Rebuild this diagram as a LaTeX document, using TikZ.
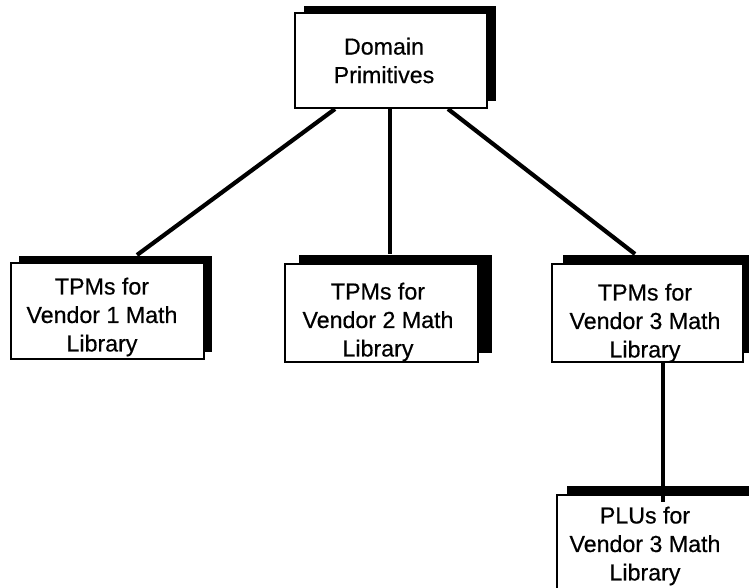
\documentclass[tikz,border=0pt]{standalone}
\usepackage{fontspec}
\setmainfont{Liberation Sans}[FakeBold=0.5]
\usetikzlibrary{shadows}
\begin{document}
\begin{tikzpicture}[x=1pt,y=-1pt,
  box/.style={draw=black, line width=2pt, fill=white, rectangle, inner sep=0pt},
  shade/.style 2 args={drop shadow={shadow xshift=#1pt, shadow yshift=#2pt, fill=black, opacity=1}},
  lbl/.style={inner sep=0pt, align=center, font=\fontsize{23.2}{28.5}\selectfont},
  link/.style={line width=4.2pt, draw=black}]
\useasboundingbox (0,0) rectangle (749,588);
\fill[white] (0,0) rectangle (749,588);
\clip (0,0) rectangle (749,588);

% boxes with solid black offset shadows
\node[box, shade={9}{7}, minimum width=192pt, minimum height=95pt] (dom) at (391,60.5) {};
\node[box, shade={8}{7}, minimum width=193pt, minimum height=96pt] (v1) at (107.5,311) {};
\node[box, shade={14}{9}, minimum width=193pt, minimum height=98pt] (v2) at (381.5,313) {};
\node[box, shade={11}{9}, minimum width=191pt, minimum height=98pt] (v3) at (647.5,313) {};
\node[box, shade={10}{9}, minimum width=200pt, minimum height=100pt] (plu) at (657,545) {};

% labels
\node[lbl] (domt) at ([xshift=-7pt]dom.center) {Domain\\Primitives};
\node[lbl] (v1t) at ([xshift=-5.5pt,yshift=-6pt]v1.center) {TPMs for\\Vendor 1 Math\\Library};
\node[lbl] (v2t) at ([xshift=-3.5pt,yshift=-9pt]v2.center) {TPMs for\\Vendor 2 Math\\Library};
\node[lbl] (v3t) at ([xshift=-2.5pt,yshift=-10pt]v3.center) {TPMs for\\Vendor 3 Math\\Library};
\node[lbl] (plut) at (645,546) {PLUs for\\Vendor 3 Math\\Library};

% connectors
\draw[link] ([xshift=-56pt]dom.south) -- ([xshift=29.5pt,yshift=7pt]v1.north);
\draw[link] ([xshift=-1pt]dom.south) -- ([xshift=8.5pt,yshift=9pt]v2.north);
\draw[link] ([xshift=57pt]dom.south) -- ([xshift=-12.5pt,yshift=9pt]v3.north);
\draw[link] ([xshift=15.5pt]v3.south) -- ([xshift=6pt,yshift=-8pt]plu.north);
\end{tikzpicture}
\end{document}
